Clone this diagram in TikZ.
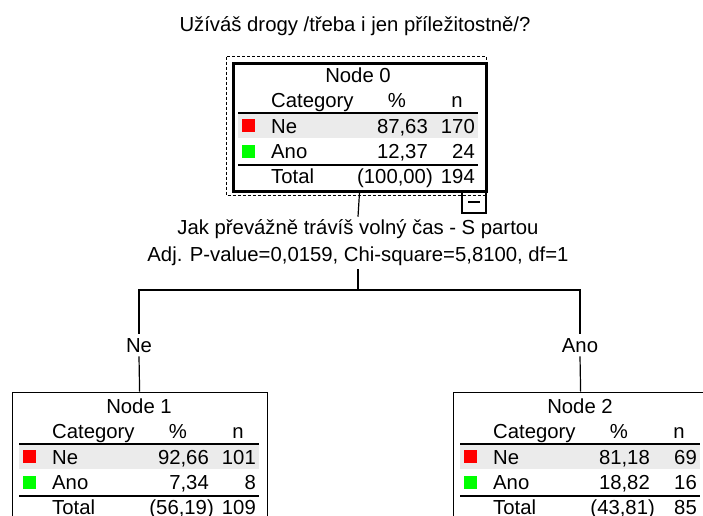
\documentclass[tikz,border=0pt]{standalone}
\usepackage{fontspec}
\setmainfont{Liberation Sans}
\usetikzlibrary{positioning}
\definecolor{rowgray}{RGB}{235,235,235}
\definecolor{nered}{RGB}{255,0,0}
\definecolor{anogreen}{RGB}{0,255,0}

\begin{document}
\begin{tikzpicture}[
    x=1pt, y=-1pt,
    txt/.style={
        inner sep=0pt,
        font=\fontsize{20.3}{27}\selectfont
    },
    cell/.style={txt, anchor=base west},
    num/.style={txt, anchor=base east},
    mid/.style={txt, anchor=base},
    nodebox/.style={
        draw,
        line width=1.2pt,
        anchor=north west,
        inner sep=0pt,
        minimum width=255pt,
        minimum height=140pt
    },
    rootbox/.style={
        nodebox,
        line width=3pt,
        minimum width=253pt,
        minimum height=128pt
    },
    swatch/.style={
        inner sep=0pt,
        minimum size=13pt,
        anchor=north west
    },
    rule/.style={line width=1.4pt},
    branch/.style={line width=1.2pt},
    selbox/.style={dash pattern=on 3pt off 2pt, line width=1.2pt}
]
\useasboundingbox (0,0) rectangle (703,515);

% Title
\node[mid] (question) at (355,31) {Užíváš drogy /třeba i jen příležitostně/?};

% ==================== NODE 0 ====================
\begin{scope}[shift={(230,60)}]
    \node[rootbox] (n0) at (1.5,1.5) {};
    \node[mid] (n0title) at (128,22) {Node 0};
    \node[cell] (n0cat) at (41,47) {Category};
    \node[mid] (n0pct) at (167,47) {\%};
    \node[mid] (n0n) at (227,47) {n};
    \fill[rowgray] (8,53) rectangle (248,78);
    \draw[rule] (8,53) -- (248,53);
    \node[swatch, fill=nered] (n0red) at (12,59) {};
    \node[cell] (n0ne) at (41,73) {Ne};
    \node[num] (n0nepct) at (198,73) {87,63};
    \node[num] (n0nen) at (245,73) {170};
    \node[swatch, fill=anogreen] (n0green) at (12,85) {};
    \node[cell] (n0ano) at (41,98) {Ano};
    \node[num] (n0anopct) at (198,98) {12,37};
    \node[num] (n0anon) at (245,98) {24};
    \draw[rule] (8,105) -- (248,105);
    \node[cell] (n0tot) at (41,123) {Total};
    \node[num] (n0totpct) at (203,123) {(100,00)};
    \node[num] (n0totn) at (245,123) {194};
\end{scope}

% Selection frame and collapse button
\draw[selbox] (226.5,56.5) rectangle (486.5,195.5);
\node[draw, line width=1.2pt, inner sep=0pt, minimum width=24pt, minimum height=22pt] (collapse) at (474,202) {};
\draw[line width=2pt] (collapse.center) ++(-6,0) -- ++(12,0);

% ==================== SPLIT ====================
\node[txt, align=center, inner sep=3pt] (split) at (358,243)
    {Jak převážně trávíš volný čas - S partou\\Adj. P-value=0,0159, Chi-square=5,8100, df=1};
\coordinate (fork) at (358,290);
\node[mid, inner sep=4pt] (br1) at (139,352) {Ne};
\node[mid, inner sep=4pt] (br2) at (580,352) {Ano};

% ==================== NODE 1 ====================
\begin{scope}[shift={(11,391)}]
    \node[nodebox] (n1) at (0.5,0.5) {};
    \node[mid] (n1title) at (128,22) {Node 1};
    \node[cell] (n1cat) at (41,47) {Category};
    \node[mid] (n1pct) at (167,47) {\%};
    \node[mid] (n1n) at (227,47) {n};
    \fill[rowgray] (8,53) rectangle (248,78);
    \draw[rule] (8,53) -- (248,53);
    \node[swatch, fill=nered] (n1red) at (12,59) {};
    \node[cell] (n1ne) at (41,73) {Ne};
    \node[num] (n1nepct) at (198,73) {92,66};
    \node[num] (n1nen) at (245,73) {101};
    \node[swatch, fill=anogreen] (n1green) at (12,85) {};
    \node[cell] (n1ano) at (41,98) {Ano};
    \node[num] (n1anopct) at (198,98) {7,34};
    \node[num] (n1anon) at (245,98) {8};
    \draw[rule] (8,105) -- (248,105);
    \node[cell] (n1tot) at (41,123) {Total};
    \node[num] (n1totpct) at (203,123) {(56,19)};
    \node[num] (n1totn) at (245,123) {109};
\end{scope}

% ==================== NODE 2 ====================
\begin{scope}[shift={(452,391)}]
    \node[nodebox] (n2) at (0.5,0.5) {};
    \node[mid] (n2title) at (128,22) {Node 2};
    \node[cell] (n2cat) at (41,47) {Category};
    \node[mid] (n2pct) at (167,47) {\%};
    \node[mid] (n2n) at (227,47) {n};
    \fill[rowgray] (8,53) rectangle (248,78);
    \draw[rule] (8,53) -- (248,53);
    \node[swatch, fill=nered] (n2red) at (12,59) {};
    \node[cell] (n2ne) at (41,73) {Ne};
    \node[num] (n2nepct) at (198,73) {81,18};
    \node[num] (n2nen) at (245,73) {69};
    \node[swatch, fill=anogreen] (n2green) at (12,85) {};
    \node[cell] (n2ano) at (41,98) {Ano};
    \node[num] (n2anopct) at (198,98) {18,82};
    \node[num] (n2anon) at (245,98) {16};
    \draw[rule] (8,105) -- (248,105);
    \node[cell] (n2tot) at (41,123) {Total};
    \node[num] (n2totpct) at (203,123) {(43,81)};
    \node[num] (n2totn) at (245,123) {85};
\end{scope}

% ==================== CONNECTORS ====================
\draw[branch] (n0.south) -- (split.north);
\draw[branch] (split.south) -- (fork);
\draw[branch] (fork) -| (br1.north);
\draw[branch] (fork) -| (br2.north);
\draw[branch] (br1.south) -- (n1.north);
\draw[branch] (br2.south) -- (n2.north);

\end{tikzpicture}
\end{document}
